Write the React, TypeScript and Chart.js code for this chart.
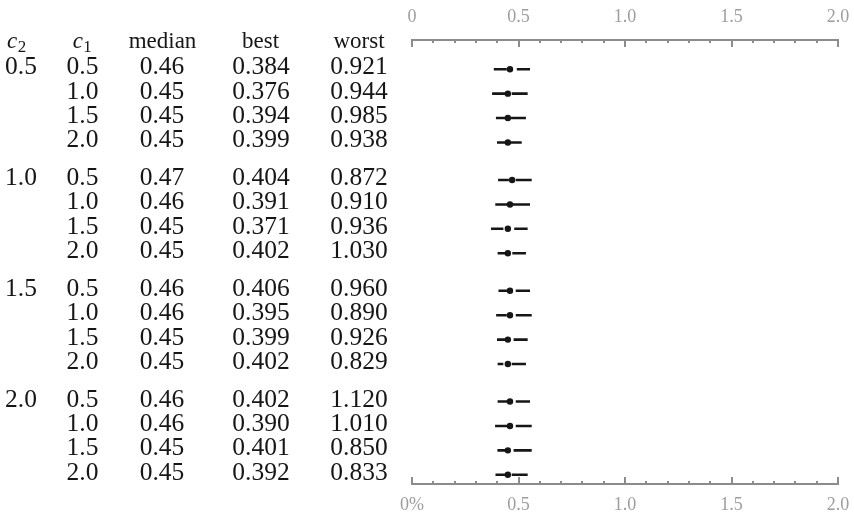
import React, { useEffect, useRef } from "react";
import { Chart, registerables } from "chart.js";
Chart.register(...registerables);

const c2Labels = ["0.5", "1.0", "1.5", "2.0"];
const c1Labels = ["0.5", "1.0", "1.5", "2.0"];
const medianValues = [0.46, 0.45, 0.45, 0.45, 0.47, 0.46, 0.45, 0.45, 0.46, 0.46, 0.45, 0.45, 0.46, 0.46, 0.45, 0.45];
const bestValues = [0.384, 0.376, 0.394, 0.399, 0.404, 0.391, 0.371, 0.402, 0.406, 0.395, 0.399, 0.402, 0.402, 0.39, 0.401, 0.392];
const worstValues = [0.921, 0.944, 0.985, 0.938, 0.872, 0.91, 0.936, 1.03, 0.96, 0.89, 0.926, 0.829, 1.12, 1.01, 0.85, 0.833];
const q1Values = [0.445, 0.437, 0.44, 0.44, 0.455, 0.449, 0.429, 0.44, 0.449, 0.445, 0.437, 0.429, 0.449, 0.449, 0.445, 0.437];
const q3Values = [0.492, 0.468, 0.465, 0.46, 0.487, 0.471, 0.48, 0.471, 0.487, 0.487, 0.477, 0.468, 0.487, 0.487, 0.477, 0.468];
const upperValues = [0.554, 0.543, 0.535, 0.515, 0.562, 0.554, 0.543, 0.535, 0.554, 0.562, 0.543, 0.535, 0.554, 0.562, 0.562, 0.543];
const headerLabels = ["median", "best", "worst"];
const axisMin = 0;
const axisMax = 2;
const axisStep = 0.1;

const GROUP_GAP = 1.54;
const rowPos = (i: number) => Math.floor(i / 4) * (3 + GROUP_GAP) + (i % 4);

const SERIF = '"Liberation Serif", "Times New Roman", serif';
const INK = "#161616";
const AXIS = "#8c8c8c";

const isMajor = (v: number) => Math.abs(v * 2 - Math.round(v * 2)) < 1e-6;
const fmtTick = (v: number) => (Math.abs(v) < 1e-9 ? "0" : v.toFixed(1));

const tablePlugin = {
  id: "tableText",
  afterDraw(chart: any) {
    const { ctx } = chart;
    const y = chart.scales.y;
    ctx.save();
    ctx.fillStyle = INK;
    const hy = y.getPixelForValue(0) - 21.5;
    ctx.textBaseline = "alphabetic";
    const drawSub = (x: number, main: string, sub: string, align: "left" | "center") => {
      ctx.font = `italic 23px ${SERIF}`;
      const w1 = ctx.measureText(main).width;
      ctx.font = `17px ${SERIF}`;
      const w2 = ctx.measureText(sub).width;
      const start = align === "left" ? x : x - (w1 + w2) / 2;
      ctx.textAlign = "left";
      ctx.font = `italic 23px ${SERIF}`;
      ctx.fillText(main, start, hy);
      ctx.font = `17px ${SERIF}`;
      ctx.fillText(sub, start + w1 + 0.5, hy + 4);
    };
    drawSub(7, "c", "2", "left");
    drawSub(82, "c", "1", "center");
    ctx.font = `23px ${SERIF}`;
    ctx.textAlign = "center";
    ctx.fillText(headerLabels[0], 162.5, hy);
    ctx.fillText(headerLabels[1], 260.5, hy);
    ctx.fillText(headerLabels[2], 359, hy);

    ctx.font = `25.5px ${SERIF}`;
    for (let i = 0; i < medianValues.length; i++) {
      const py = y.getPixelForValue(rowPos(i)) + 5;
      if (i % 4 === 0) {
        ctx.textAlign = "left";
        ctx.fillText(c2Labels[Math.floor(i / 4)], 5, py);
      }
      ctx.textAlign = "center";
      ctx.fillText(c1Labels[i % 4], 82.5, py);
      ctx.fillText(medianValues[i].toFixed(2), 162, py);
      ctx.fillText(bestValues[i].toFixed(3), 261, py);
      ctx.fillText(worstValues[i].toFixed(3), 359, py);
    }
    ctx.restore();
  },
};

const tickPlugin = {
  id: "innerTicks",
  afterDraw(chart: any) {
    const { ctx } = chart;
    ctx.save();
    ctx.strokeStyle = AXIS;
    ctx.lineWidth = 2;
    for (const id of ["x", "x2"]) {
      const s = chart.scales[id];
      const top = id === "x";
      const base = top ? s.bottom - 1 : s.top + 1;
      for (const t of s.ticks) {
        const px = Math.round(s.getPixelForValue(t.value));
        const len = isMajor(t.value) ? 8 : 4;
        ctx.beginPath();
        ctx.moveTo(px, base);
        ctx.lineTo(px, top ? base + len : base - len);
        ctx.stroke();
      }
    }
    ctx.restore();
  },
};

export default function App() {
  const ref = useRef<HTMLCanvasElement>(null);
  useEffect(() => {
    if (!ref.current) return;
    const leftSeg: any[] = [];
    const rightSeg: any[] = [];
    const meds: any[] = [];
    for (let i = 0; i < medianValues.length; i++) {
      const p = rowPos(i);
      leftSeg.push({ x: bestValues[i], y: p }, { x: q1Values[i], y: p }, { x: null, y: null });
      rightSeg.push({ x: q3Values[i], y: p }, { x: upperValues[i], y: p }, { x: null, y: null });
      meds.push({ x: medianValues[i], y: p });
    }
    const tickCommon = (labelFn: (v: number) => string, pad: number) => ({
      stepSize: axisStep,
      autoSkip: false,
      maxRotation: 0,
      minRotation: 0,
      padding: pad,
      color: "#9d9d9d",
      font: { family: SERIF, size: 18 },
      callback: (v: any) => (isMajor(Number(v)) ? labelFn(Number(v)) : ""),
    });
    const fitter = (h: number) => (s: any) => {
      s.height = h;
      s.paddingLeft = 0;
      s.paddingRight = 0;
    };
    const chart = new Chart(ref.current, {
      type: "scatter",
      data: {
        datasets: [
          {
            data: leftSeg,
            showLine: true,
            spanGaps: false,
            borderColor: INK,
            borderWidth: 2.6,
            pointRadius: 0,
            borderCapStyle: "butt",
          } as any,
          {
            data: rightSeg,
            showLine: true,
            spanGaps: false,
            borderColor: INK,
            borderWidth: 2.6,
            pointRadius: 0,
            borderCapStyle: "butt",
          } as any,
          {
            data: meds,
            showLine: false,
            pointRadius: 3.2,
            pointBackgroundColor: INK,
            pointBorderWidth: 0,
            borderColor: INK,
          } as any,
        ],
      },
      options: {
        responsive: false,
        animation: false,
        events: [],
        layout: { padding: { left: 412, right: 16, top: 0, bottom: 0 } },
        plugins: { legend: { display: false }, tooltip: { enabled: false } },
        scales: {
          x: {
            type: "linear",
            position: "top",
            min: axisMin,
            max: axisMax,
            afterFit: fitter(40),
            grid: { display: true, drawOnChartArea: false, drawTicks: false },
            border: { display: true, color: AXIS, width: 2 },
            ticks: tickCommon(fmtTick, 12),
          },
          x2: {
            type: "linear",
            position: "bottom",
            min: axisMin,
            max: axisMax,
            afterFit: fitter(33),
            grid: { display: true, drawOnChartArea: false, drawTicks: false },
            border: { display: true, color: AXIS, width: 2 },
            ticks: tickCommon((v) => (Math.abs(v) < 1e-9 ? "0%" : v.toFixed(1)), 10),
          },
          y: {
            type: "linear",
            display: false,
            reverse: true,
            min: -1.2,
            max: 17.0,
          },
        },
      } as any,
      plugins: [tablePlugin, tickPlugin],
    });
    return () => chart.destroy();
  }, []);
  return (
    <div style={{ position: "absolute", left: 0, top: 0, width: 854, height: 517, background: "#fff" }}>
      <canvas ref={ref} width={854} height={517} style={{ display: "block" }} />
    </div>
  );
}
